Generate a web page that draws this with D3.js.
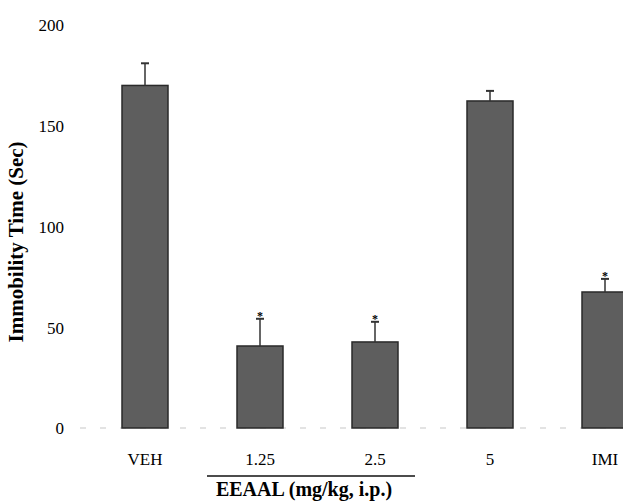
<!DOCTYPE html>
<html>
<head>
<meta charset="utf-8">
<script src="https://cdn.jsdelivr.net/npm/d3@7"></script>
<style>
  body { margin: 0; background: #fff; }
</style>
</head>
<body>
<script>
const w = 623;
const h = 501;
const serif = "'Liberation Serif', 'Times New Roman', Tinos, 'DejaVu Serif', serif";

// data
const groups = ["VEH", "1.25", "2.5", "5", "IMI"];
const means = [170, 40.7, 42.7, 162.3, 67.5];
const errors = [11, 13.5, 10, 5, 6.5];
const significant = [false, true, true, false, true];
const yTicks = [0, 50, 100, 150, 200];

const svg = d3.select("body")
  .append("svg")
  .attr("width", w)
  .attr("height", h)
  .attr("font-family", serif);

const x = d3.scaleBand()
  .domain(groups)
  .range([87.5, 662.5])
  .paddingInner(0.6)
  .paddingOuter(0.3);

const y = d3.scaleLinear()
  .domain([0, 200])
  .range([428, 25]);

// faint baseline
svg.append("line")
  .attr("x1", 80)
  .attr("x2", w)
  .attr("y1", y(0))
  .attr("y2", y(0))
  .attr("stroke", "#c8c8c8")
  .attr("stroke-width", 1.2)
  .attr("stroke-dasharray", "6,14");

// y tick labels (no axis line in the original)
svg.append("g")
  .selectAll("text")
  .data(yTicks)
  .enter()
  .append("text")
  .attr("x", 64)
  .attr("y", d => y(d))
  .attr("dy", "0.38em")
  .attr("text-anchor", "end")
  .attr("font-family", serif)
  .style("font-size", "17px")
  .text(d => d);

const bars = svg.append("g")
  .selectAll("g")
  .data(groups)
  .enter()
  .append("g");

bars.append("rect")
  .attr("x", d => x(d))
  .attr("y", (d, i) => y(means[i]))
  .attr("width", x.bandwidth())
  .attr("height", (d, i) => y(0) - y(means[i]))
  .attr("fill", "#5e5e5e")
  .attr("stroke", "#2a2a2a")
  .attr("stroke-width", 1.5);

// error bars: upper half only
bars.append("line")
  .attr("x1", d => x(d) + x.bandwidth() / 2)
  .attr("x2", d => x(d) + x.bandwidth() / 2)
  .attr("y1", (d, i) => y(means[i]))
  .attr("y2", (d, i) => y(means[i] + errors[i]))
  .attr("stroke", "#333")
  .attr("stroke-width", 1.5);

bars.append("line")
  .attr("x1", d => x(d) + x.bandwidth() / 2 - 4)
  .attr("x2", d => x(d) + x.bandwidth() / 2 + 4)
  .attr("y1", (d, i) => y(means[i] + errors[i]))
  .attr("y2", (d, i) => y(means[i] + errors[i]))
  .attr("stroke", "#333")
  .attr("stroke-width", 2);

bars.filter((d, i) => significant[i])
  .append("text")
  .attr("x", d => x(d) + x.bandwidth() / 2)
  .attr("y", d => {
    const i = groups.indexOf(d);
    return y(means[i] + errors[i]) + 1;
  })
  .attr("text-anchor", "middle")
  .attr("font-family", serif)
  .style("font-size", "12px")
  .style("font-weight", "bold")
  .text("*");

// category labels
svg.append("g")
  .selectAll("text")
  .data(groups)
  .enter()
  .append("text")
  .attr("x", d => x(d) + x.bandwidth() / 2)
  .attr("y", 465)
  .attr("text-anchor", "middle")
  .attr("font-family", serif)
  .style("font-size", "17px")
  .text(d => d);

// bracket under the extract doses
svg.append("line")
  .attr("x1", 207)
  .attr("x2", 415)
  .attr("y1", 476)
  .attr("y2", 476)
  .attr("stroke", "#111")
  .attr("stroke-width", 1.5);

svg.append("text")
  .attr("x", 304)
  .attr("y", 496)
  .attr("text-anchor", "middle")
  .attr("font-family", serif)
  .style("font-size", "20px")
  .style("font-weight", "bold")
  .text("EEAAL (mg/kg, i.p.)");

svg.append("text")
  .attr("transform", "translate(23, 242) rotate(-90)")
  .attr("text-anchor", "middle")
  .attr("font-family", serif)
  .style("font-size", "21px")
  .style("font-weight", "bold")
  .text("Immobility Time (Sec)");
</script>
</body>
</html>
